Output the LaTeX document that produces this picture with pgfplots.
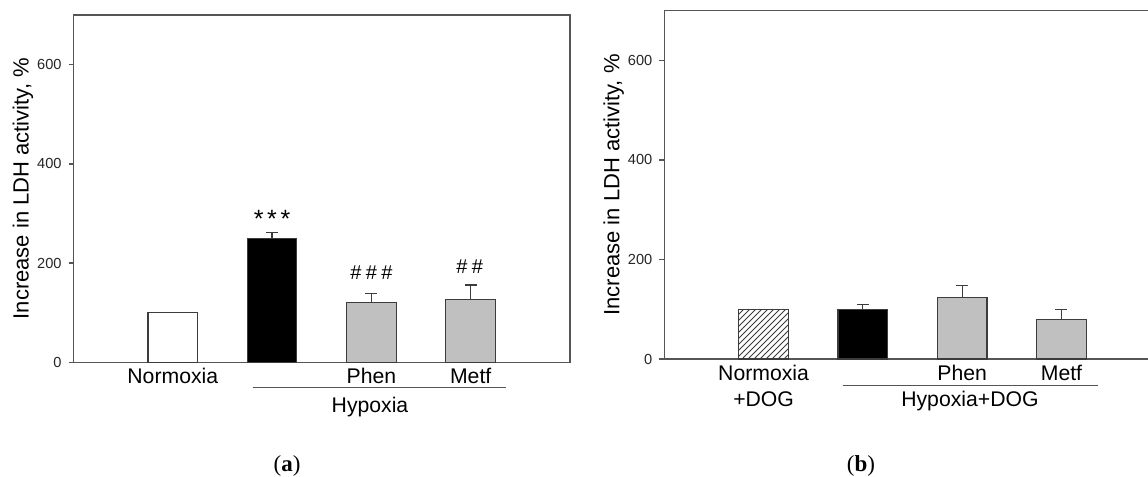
\documentclass[border=0pt]{standalone}
\usepackage{fontspec}
\setmainfont{Liberation Sans}
\newfontfamily\capfont{Liberation Serif}
\usepackage{pgfplots}
\pgfplotsset{compat=1.18}
\usetikzlibrary{patterns}
\definecolor{axisgray}{RGB}{85,85,85}
\definecolor{barline}{RGB}{60,60,60}
\definecolor{barfill}{RGB}{192,192,192}
\pgfplotsset{
 panel/.style={
  scale only axis, width=248.25pt, height=173.65pt,
  xmin=0, xmax=5, ymin=0, ymax=700,
  axis line style={draw=axisgray, line width=0.7pt},
  ytick={0,200,400,600},
  xtick={1,2,3,4},
  ytick pos=left, xtick pos=bottom,
  tick align=outside, major tick length=2.5pt,
  ytick style={draw=axisgray, line width=0.7pt},
  xtick style={draw=none},
  yticklabel style={font=\fontsize{7.3}{8.5}\selectfont, text=black!85, inner sep=0pt, xshift=-3.3pt},
  xticklabel style={font=\fontsize{10.6}{13.2}\selectfont, inner sep=0pt, anchor=north, align=center, yshift=-0.4pt},
  ylabel={Increase in LDH activity, \%},
  ylabel style={font=\fontsize{11}{13}\selectfont, at={(rel axis cs:-0.1017,0.5)}, anchor=center},
  clip=false,
  /pgf/number format/assume math mode=true,
 },
 mybar/.style={ybar, bar width=24.8pt, bar shift=0pt, draw=barline, line width=0.6pt},
 myerr/.style={error bars/.cd, y dir=plus, y explicit,
   error bar style={draw=barline, line width=0.6pt},
   error mark options={rotate=90, draw=barline, mark size=3pt, line width=0.6pt}},
}
\begin{document}
\begin{tikzpicture}
\useasboundingbox (0,0) rectangle (574pt,238.5pt);
% ---------- panel (a)
\begin{axis}[panel, at={(36.75pt,57.35pt)}, anchor=south west,
  xticklabels={Normoxia,,Phen,Metf}]
\addplot[mybar, fill=white] coordinates {(1,100)};
\addplot[mybar, fill=black, myerr] coordinates {(2,249) +- (0,13)};
\addplot[mybar, fill=barfill, myerr] coordinates {(3,121) +- (0,17)};
\addplot[mybar, fill=barfill, myerr] coordinates {(4,126) +- (0,30)};
\node[anchor=north, inner sep=0pt, font=\fontsize{12.5}{14}\selectfont] at (axis cs:2,307) {*\hspace{1.8pt}*\hspace{1.8pt}*};
\node[anchor=north, inner sep=0pt, font=\fontsize{10}{12}\selectfont] at (axis cs:3,196) {\#\hspace{2.2pt}\#\hspace{2.2pt}\#};
\node[anchor=north, inner sep=0pt, font=\fontsize{10}{12}\selectfont] at (axis cs:3.99,207.6) {\#\hspace{2.2pt}\#};
\draw[axisgray, line width=0.5pt] (axis cs:1.805,-51.2) -- (axis cs:4.355,-51.2);
\node[anchor=north, inner sep=0pt, font=\fontsize{10.6}{13.2}\selectfont] at (axis cs:2.986,-69.3) {Hypoxia};
\end{axis}
% ---------- panel (b)
\begin{axis}[panel, at={(332.15pt,59pt)}, anchor=south west, height=174.15pt,
  xticklabels={{Normoxia\\+DOG},,Phen,Metf}]
\addplot[mybar, pattern=north east lines, pattern color=barline] coordinates {(1,100)};
\addplot[mybar, fill=black, myerr] coordinates {(2,100) +- (0,10)};
\addplot[mybar, fill=barfill, myerr] coordinates {(3,123) +- (0,24)};
\addplot[mybar, fill=barfill, myerr] coordinates {(4,80) +- (0,20)};
\draw[axisgray, line width=0.5pt] (axis cs:1.797,-52.3) -- (axis cs:4.365,-52.3);
\node[anchor=north, inner sep=0pt, font=\fontsize{10.6}{13.2}\selectfont] at (axis cs:3.078,-63.7) {Hypoxia+DOG};
\end{axis}
\node[font=\capfont\fontsize{11.5}{13}\selectfont] at (143.5pt,5.5pt) {(\textbf{a})};
\node[font=\capfont\fontsize{11.5}{13}\selectfont] at (430.5pt,5.5pt) {(\textbf{b})};
\end{tikzpicture}
\end{document}
